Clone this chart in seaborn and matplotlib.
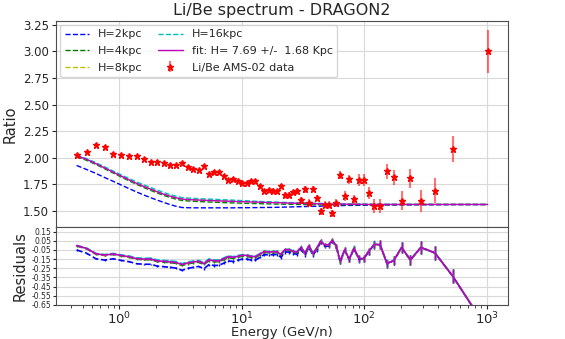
import numpy as np
import matplotlib
matplotlib.use("Agg")
import matplotlib.pyplot as plt
import seaborn as sns

# === Data (AMS-02 Li/Be, 67 bins) ===
energy = [0.447, 0.540, 0.643, 0.757, 0.890, 1.035, 1.20, 1.38, 1.585, 1.80,
          2.04, 2.31, 2.58, 2.89, 3.24, 3.62, 4.00, 4.43, 4.90, 5.38,
          5.90, 6.49, 7.08, 7.73, 8.49, 9.27, 10.07, 10.99, 11.9, 12.9,
          14.1, 15.2, 16.5, 17.8, 19.3, 20.8, 22.4, 24.2, 26.1, 28.1,
          30.3, 32.7, 35.2, 38.0, 40.7, 43.9, 47.3, 51.0, 54.6, 58.9,
          63.4, 68.9, 75.1, 82.1, 90.2, 98.5, 108, 120, 134, 153,
          174, 201, 237, 289, 376, 525, 1013]

ratio = [2.025, 2.053, 2.125, 2.106, 2.040, 2.030, 2.015, 2.015, 1.990, 1.960,
         1.965, 1.947, 1.934, 1.928, 1.950, 1.915, 1.896, 1.881, 1.919, 1.850,
         1.866, 1.863, 1.828, 1.788, 1.800, 1.778, 1.760, 1.760, 1.778, 1.778,
         1.731, 1.687, 1.694, 1.690, 1.687, 1.734, 1.650, 1.650, 1.675, 1.690,
         1.605, 1.703, 1.580, 1.706, 1.622, 1.497, 1.560, 1.560, 1.478, 1.578,
         1.835, 1.640, 1.797, 1.612, 1.790, 1.790, 1.666, 1.547, 1.547, 1.872,
         1.816, 1.597, 1.810, 1.596, 1.690, 2.084, 3.000]

ratio_err = [0.012, 0.012, 0.012, 0.012, 0.012, 0.012, 0.012, 0.012, 0.012, 0.013,
             0.013, 0.013, 0.014, 0.014, 0.014, 0.015, 0.015, 0.015, 0.016, 0.016,
             0.017, 0.017, 0.017, 0.018, 0.018, 0.019, 0.019, 0.020, 0.020, 0.021,
             0.021, 0.022, 0.022, 0.023, 0.023, 0.024, 0.025, 0.025, 0.026, 0.027,
             0.028, 0.029, 0.030, 0.030, 0.031, 0.032, 0.034, 0.035, 0.034, 0.035,
             0.037, 0.045, 0.044, 0.043, 0.055, 0.055, 0.057, 0.066, 0.070, 0.067,
             0.073, 0.089, 0.089, 0.106, 0.119, 0.120, 0.200]

h2 = [1.928, 1.890, 1.853, 1.815, 1.779, 1.744, 1.710, 1.679, 1.650, 1.625,
      1.602, 1.580, 1.561, 1.545, 1.533, 1.531, 1.530, 1.530, 1.530, 1.530,
      1.530, 1.530, 1.530, 1.530, 1.530, 1.531, 1.531, 1.531, 1.532, 1.532,
      1.533, 1.533, 1.534, 1.534, 1.535, 1.536, 1.537, 1.538, 1.539, 1.540,
      1.541, 1.542, 1.543, 1.544, 1.545, 1.546, 1.547, 1.548, 1.549, 1.550,
      1.551, 1.552, 1.553, 1.553, 1.554, 1.555, 1.555, 1.556, 1.556, 1.557,
      1.557, 1.558, 1.558, 1.559, 1.559, 1.560, 1.560]

h4 = [2.010, 1.976, 1.937, 1.897, 1.857, 1.819, 1.783, 1.751, 1.720, 1.694,
      1.669, 1.646, 1.628, 1.612, 1.599, 1.595, 1.592, 1.589, 1.587, 1.585,
      1.583, 1.581, 1.579, 1.578, 1.576, 1.575, 1.573, 1.572, 1.571, 1.570,
      1.569, 1.568, 1.567, 1.566, 1.565, 1.565, 1.564, 1.563, 1.563, 1.562,
      1.562, 1.561, 1.561, 1.560, 1.560, 1.560, 1.559, 1.559, 1.559, 1.559,
      1.559, 1.559, 1.559, 1.559, 1.559, 1.559, 1.559, 1.559, 1.560, 1.560,
      1.560, 1.560, 1.560, 1.561, 1.561, 1.561, 1.561]

h8 = [2.021, 1.987, 1.947, 1.907, 1.867, 1.830, 1.794, 1.762, 1.732, 1.707,
      1.682, 1.659, 1.642, 1.627, 1.614, 1.610, 1.607, 1.605, 1.603, 1.601,
      1.599, 1.597, 1.596, 1.594, 1.593, 1.591, 1.590, 1.589, 1.587, 1.586,
      1.585, 1.583, 1.582, 1.581, 1.580, 1.579, 1.578, 1.577, 1.576, 1.575,
      1.574, 1.573, 1.572, 1.571, 1.570, 1.569, 1.568, 1.567, 1.567, 1.566,
      1.566, 1.565, 1.565, 1.564, 1.564, 1.564, 1.563, 1.563, 1.563, 1.563,
      1.563, 1.563, 1.563, 1.563, 1.563, 1.563, 1.563]

h16 = [2.024, 1.992, 1.954, 1.915, 1.876, 1.840, 1.805, 1.774, 1.745, 1.720,
       1.696, 1.673, 1.655, 1.640, 1.626, 1.622, 1.619, 1.616, 1.614, 1.612,
       1.610, 1.608, 1.606, 1.604, 1.602, 1.600, 1.598, 1.596, 1.594, 1.592,
       1.590, 1.588, 1.587, 1.585, 1.584, 1.582, 1.581, 1.580, 1.579, 1.578,
       1.577, 1.576, 1.575, 1.574, 1.573, 1.572, 1.571, 1.570, 1.569, 1.569,
       1.568, 1.568, 1.567, 1.567, 1.566, 1.566, 1.565, 1.565, 1.565, 1.564,
       1.564, 1.564, 1.564, 1.563, 1.563, 1.563, 1.563]

fit = [2.020, 1.985, 1.945, 1.905, 1.865, 1.828, 1.792, 1.760, 1.730, 1.705,
       1.680, 1.657, 1.640, 1.625, 1.612, 1.608, 1.605, 1.603, 1.601, 1.599,
       1.597, 1.595, 1.594, 1.592, 1.591, 1.589, 1.588, 1.587, 1.585, 1.584,
       1.583, 1.581, 1.580, 1.579, 1.578, 1.577, 1.576, 1.575, 1.574, 1.573,
       1.572, 1.571, 1.570, 1.569, 1.568, 1.568, 1.567, 1.566, 1.566, 1.565,
       1.565, 1.564, 1.564, 1.563, 1.563, 1.563, 1.562, 1.562, 1.562, 1.562,
       1.562, 1.562, 1.562, 1.562, 1.562, 1.562, 1.562]

fit_H, fit_dH = 7.69, 1.68

models = [
    ("H=2kpc", h2, "b", "--"),
    ("H=4kpc", h4, "g", "--"),
    ("H=8kpc", h8, "y", "--"),
    ("H=16kpc", h16, "c", "--"),
    ("fit: H=%5.2f +/- %5.2f Kpc" % (fit_H, fit_dH), fit, "m", "-"),
]

# === Style ===
sns.set_style("whitegrid", {"axes.edgecolor": "0.3", "grid.color": "0.85",
                            "xtick.bottom": True, "ytick.left": True})
plt.rcParams["font.family"] = ["DejaVu Sans"]

fig = plt.figure(figsize=(5.65, 3.39), dpi=100)
ax = fig.add_axes([0.099, 0.3304, 0.800, 0.6091])
axr = fig.add_axes([0.099, 0.1003, 0.800, 0.2301], sharex=ax)

E = np.array(energy)
R = np.array(ratio)
dR = np.array(ratio_err)

# main panel
for label, vals, c, ls in models:
    sns.lineplot(x=E, y=vals, ax=ax, color=c, linestyle=ls, lw=1.0, label=label)
ax.errorbar(E, R, yerr=dR, fmt="*", color="r", ecolor=(1, 0, 0, 0.55),
            ms=4.5, elinewidth=1.5, label="Li/Be AMS-02 data")

ax.set_xscale("log")
ax.set_xlim(0.303, 1484)
ax.set_ylim(1.35, 3.29)
ax.set_yticks([1.50, 1.75, 2.00, 2.25, 2.50, 2.75, 3.00, 3.25])
ax.tick_params(axis="y", labelsize=8.5, length=3, pad=2)
ax.tick_params(axis="x", labelbottom=False, length=0, which="both")
ax.set_ylabel("Ratio", fontsize=10.5)
ax.set_title("Li/Be spectrum - DRAGON2", fontsize=11.5, pad=4)
ax.legend(ncol=2, loc="upper left", fontsize=8.0, framealpha=0.8,
          edgecolor="0.8", handlelength=2.2, borderaxespad=0.4,
          columnspacing=1.4, labelspacing=0.6)

# residual panel: (model - data) / model
for label, vals, c, ls in models:
    m = np.array(vals)
    axr.errorbar(E, (m - R) / m, yerr=dR / m, color=c, ls=ls, lw=1.2, elinewidth=1.0)

axr.set_ylim(-0.65, 0.2)
axr.set_yticks(np.round(np.arange(-0.65, 0.2, 0.1), 2))
axr.yaxis.set_major_formatter(matplotlib.ticker.FormatStrFormatter("%.2f"))
axr.tick_params(axis="y", labelsize=5.5, length=2, pad=1.5)
axr.tick_params(axis="x", labelsize=9.5, length=3, pad=1)
axr.tick_params(axis="x", which="minor", length=2, bottom=True)
axr.set_ylabel("Residuals", fontsize=10.5, labelpad=3)
axr.set_xlabel("Energy (GeV/n)", fontsize=9.5, labelpad=-1)

fig.savefig("out.png", dpi=100)
